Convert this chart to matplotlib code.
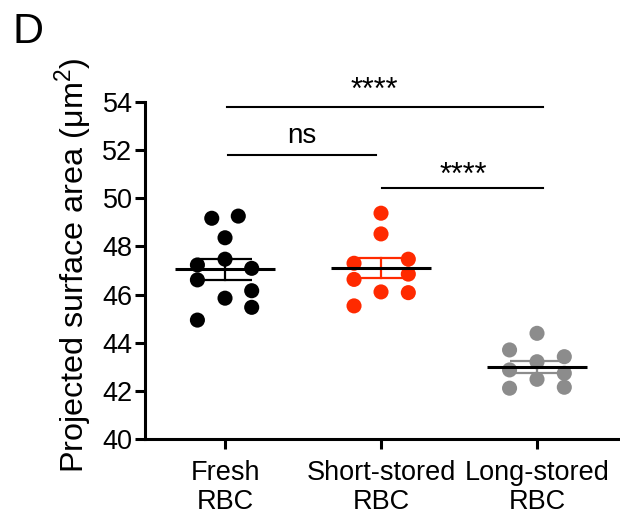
import matplotlib
matplotlib.use("Agg")
import matplotlib.pyplot as plt
import numpy as np

plt.rcParams['font.family'] = ['Liberation Sans', 'DejaVu Sans']
plt.rcParams['mathtext.fontset'] = 'custom'
plt.rcParams['mathtext.rm'] = 'Liberation Sans'

# ---- data ----
categories = ["Fresh\nRBC", "Short-stored\nRBC", "Long-stored\nRBC"]
fresh = [49.17, 49.26, 48.36, 47.47, 47.23, 47.09, 46.61, 46.16, 45.85, 45.47, 44.94]
short_stored = [49.38, 48.52, 47.30, 47.47, 46.85, 46.63, 46.11, 46.08, 45.53]
long_stored = [44.39, 43.70, 43.42, 43.21, 42.87, 42.73, 42.48, 42.11, 42.15]
yticks = [40, 42, 44, 46, 48, 50, 52, 54]
# significance: (start group, end group, label)
comparisons = [(0, 2, "****"), (0, 1, "ns"), (1, 2, "****")]

# ---- layout (horizontal scatter offsets) ----
fresh_off = [-0.085, 0.085, 0, 0, -0.177, 0.171, -0.177, 0.171, 0, 0.171, -0.177]
short_off = [0, 0, -0.173, 0.175, 0.175, -0.173, 0, 0.175, -0.173]
long_off = [0, -0.176, 0.175, 0, -0.176, 0.175, 0, -0.176, 0.175]

groups = [fresh, short_stored, long_stored]
offsets = [fresh_off, short_off, long_off]
colors = ["#000000", "#FF2A00", "#8C8C8C"]

fig = plt.figure(figsize=(6.2, 5.21), dpi=100)
ax = fig.add_axes([145/620, 82/521, 475/620, 337/521])

for i, (vals, off, c) in enumerate(zip(groups, offsets, colors)):
    vals = np.array(vals)
    x = i + np.array(off)
    ax.scatter(x, vals, s=118, color=c, edgecolors='none', zorder=3, clip_on=False)
    m = vals.mean()
    sem = vals.std(ddof=1) / np.sqrt(len(vals))
    ax.plot([i - 0.175, i + 0.175], [m + sem, m + sem], color=c, lw=1.6, zorder=4, solid_capstyle='butt')
    ax.plot([i - 0.175, i + 0.175], [m - sem, m - sem], color=c, lw=1.6, zorder=4, solid_capstyle='butt')
    ax.plot([i, i], [m - sem, m + sem], color=c, lw=1.6, zorder=4)
    ax.plot([i - 0.32, i + 0.32], [m, m], color='black', lw=2.2, zorder=5, solid_capstyle='butt')

# significance bars
bar_y = [53.79, 51.80, 50.43]
bar_x = [(0.01, 2.04), (0.02, 0.97), (1.005, 2.04)]
txt_pos = [(0.96, 54.12), (0.49, 52.30), (1.53, 50.60)]
for (g0, g1, lab), y, (x0, x1), (tx, ty) in zip(comparisons, bar_y, bar_x, txt_pos):
    ax.plot([x0, x1], [y, y], color='black', lw=1.5, clip_on=False)
    ax.text(tx, ty, lab, ha='center', va='baseline', fontsize=20 if lab == 'ns' else 22)

ax.set_xlim(-0.513, 2.532)
ax.set_ylim(40, 54)
ax.set_yticks(yticks)
ax.set_xticks(range(len(categories)))
ax.set_xticklabels(categories, fontsize=19.5, linespacing=1.15)
ax.tick_params(axis='y', labelsize=19.5, length=7, width=2.2, pad=2)
ax.tick_params(axis='x', length=7, width=2.2, pad=8)
for s in ['top', 'right']:
    ax.spines[s].set_visible(False)
for s in ['left', 'bottom']:
    ax.spines[s].set_linewidth(2.2)
ax.set_ylabel(r'Projected surface area (μm$^{2}$)', fontsize=23.3)
ax.yaxis.set_label_coords(-0.105, 0.515)

fig.text(12/620, 1 - 43/521, "D", fontsize=31, ha='left', va='baseline')

fig.savefig("out.png", dpi=100)
